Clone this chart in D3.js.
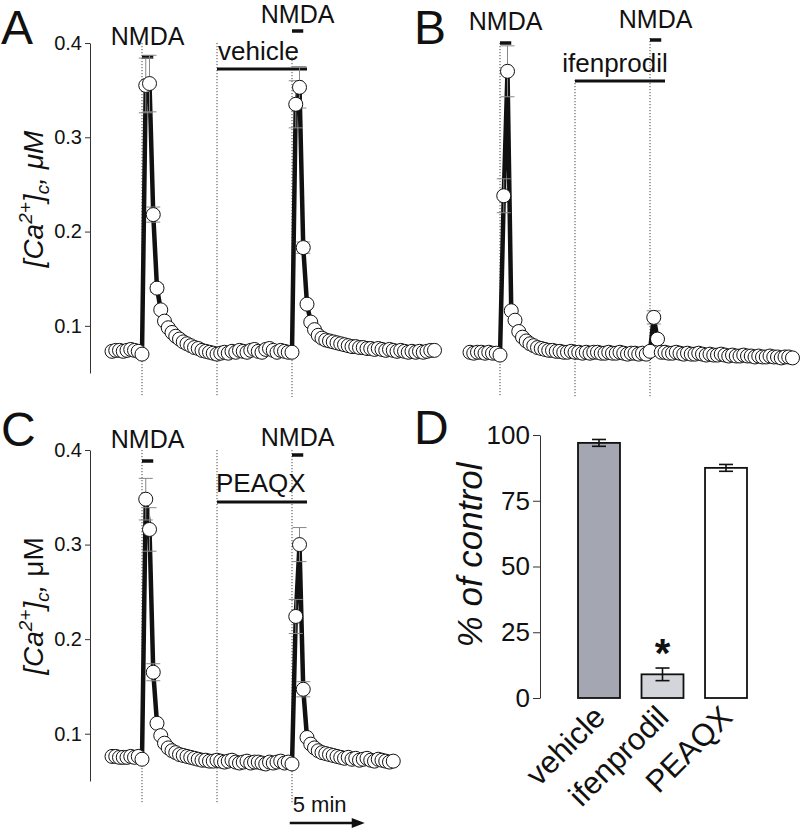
<!DOCTYPE html>
<html><head><meta charset="utf-8">
<script src="https://cdn.jsdelivr.net/npm/d3@7"></script>
<style>
body{margin:0;background:#fff}
svg{display:block}
text{font-family:"Liberation Sans",Arial,Helvetica,sans-serif;fill:#111}
</style>
</head><body>
<svg id="fig" width="800" height="829"></svg>
<script>
// ---------- DATA ----------
const sampleStart = -2;      // min, first sample
const sampleStep = 0.25;     // min between samples
const nmdaTimes = [0, 10];   // min
const nmdaDuration = 0.75;   // min
const treatWindow = [5, 11]; // min
const treatmentNames = ["vehicle", "ifenprodil", "PEAQX"];
const yTicksTrace = [0.1, 0.2, 0.3, 0.4];
const yTicksBar = [0, 25, 50, 75, 100];

const traceA = [
  0.073,0.074,0.074,0.073,0.074,0.075,0.074,0.073,0.070,
  0.355,0.357,0.218,0.140,0.117,0.105,0.098,0.093,0.089,0.086,0.083,
  0.081,0.079,0.077,0.076,0.074,0.073,0.072,0.071,0.070,0.071,
  0.072,0.071,0.073,0.072,0.074,0.073,0.072,0.074,0.075,0.073,
  0.072,0.075,0.076,0.074,0.072,0.074,0.073,0.072,0.072,
  0.335,0.353,0.183,0.123,0.104,0.096,0.090,0.087,0.085,0.084,0.083,
  0.082,0.081,0.080,0.079,0.078,0.078,0.077,0.077,0.076,0.076,
  0.075,0.076,0.075,0.074,0.075,0.074,0.073,0.074,0.073,0.072,
  0.073,0.072,0.073,0.072,0.073,0.074,0.074
];
const errIdxA = [9, 10, 11, 12, 49, 50, 51];
const errValA = [0.029, 0.030, 0.008, 0.004, 0.025, 0.022, 0.006];

const traceB = [
  0.072,0.071,0.072,0.072,0.071,0.072,0.071,0.071,0.069,
  0.238,0.370,0.116,0.106,0.094,0.088,0.084,0.081,0.079,0.077,0.076,
  0.075,0.074,0.074,0.073,0.073,0.072,0.072,0.073,0.072,
  0.072,0.071,0.072,0.071,0.072,0.072,0.071,0.071,0.072,0.071,
  0.071,0.072,0.071,0.070,0.071,0.071,0.070,0.071,0.070,
  0.073,0.109,0.086,0.072,
  0.072,0.071,0.071,0.072,0.071,0.070,0.071,0.070,0.070,0.071,
  0.070,0.069,0.070,0.069,0.069,0.070,0.069,0.068,0.069,0.068,
  0.068,0.069,0.068,0.068,0.067,0.068,0.067,0.067,0.068,0.067,
  0.067,0.066,0.067,0.067,0.066
];
const errIdxB = [9, 10, 49];
const errValB = [0.018, 0.027, 0.007];

const traceC = [
  0.076,0.076,0.075,0.075,0.075,0.076,0.075,0.076,0.073,
  0.348,0.316,0.165,0.111,0.098,0.090,0.085,0.082,0.080,0.078,0.077,
  0.076,0.075,0.074,0.073,0.072,0.072,0.071,0.071,0.072,
  0.071,0.070,0.071,0.072,0.070,0.069,0.070,0.071,0.069,0.070,
  0.070,0.069,0.068,0.070,0.069,0.070,0.071,0.069,0.070,
  0.068,0.224,0.300,0.147,0.096,0.089,0.085,0.082,0.080,0.079,0.078,0.077,
  0.076,0.075,0.074,0.075,0.073,0.074,0.072,0.073,0.074,0.072,
  0.071,0.073,0.072,0.071,0.070,0.071
];
const errIdxC = [9, 10, 11, 49, 50, 51];
const errValC = [0.022, 0.023, 0.009, 0.018, 0.018, 0.008];

const barCategories = ["vehicle", "ifenprodil", "PEAQX"];
const barValues = [97, 9, 87.5];
const barErrors = [1.3, 2.4, 1.3];
const barColors = ["#a4a7b1", "#d3d5da", "#ffffff"];
const scaleBarMinutes = 5;

// ---------- DRAW ----------
const svg = d3.select("#fig");
const FONT = '"Liberation Sans",Arial,Helvetica,sans-serif';

const xA = d3.scaleLinear().domain([0, 10]).range([142, 292]);
const xB = d3.scaleLinear().domain([0, 10]).range([500, 650]);
const xC = d3.scaleLinear().domain([0, 10]).range([142, 292]);
const yA = d3.scaleLinear().domain([0.05, 0.4]).range([373, 43]);
const yC = d3.scaleLinear().domain([0.05, 0.4]).range([781, 450]);

function traceAxis(y, xPos) {
  const g = svg.append("g").attr("transform", `translate(${xPos},0)`)
    .call(d3.axisLeft(y).tickValues(yTicksTrace).tickFormat(d3.format(".1f"))
      .tickSizeOuter(0).tickSizeInner(5).tickPadding(3));
  g.select(".domain").attr("stroke", "#333");
  g.selectAll(".tick line").attr("stroke", "#333");
  g.selectAll(".tick text").attr("font-size", 20).attr("font-family", FONT).attr("fill", "#111");
}

function yLabel(cx, cy, muItalic) {
  const t = svg.append("text").attr("transform", `translate(${cx},${cy}) rotate(-90)`)
    .attr("text-anchor", "middle").attr("font-size", 28).attr("font-style", "italic");
  t.append("tspan").text("[Ca");
  t.append("tspan").attr("dy", -11).attr("font-size", 19).text("2+");
  t.append("tspan").attr("dy", 11).text("]");
  t.append("tspan").attr("dy", 6).attr("font-size", 19).text("c");
  t.append("tspan").attr("dy", -6).text(", ");
  t.append("tspan").attr("font-style", muItalic ? "italic" : "normal").text("\u03bcM");
}

function panel(opts) {
  const {x, y, data, errIdx, errVal, cfg, treatment} = opts;
  const g = svg.append("g");
  // dotted lines
  const dts = [nmdaTimes[0], treatWindow[0], nmdaTimes[1]];
  dts.forEach((t, i) => {
    g.append("line").attr("x1", x(t)).attr("x2", x(t))
      .attr("y1", cfg.dotTop[i]).attr("y2", cfg.dotBottom)
      .attr("stroke", "#333").attr("stroke-width", 0.9).attr("stroke-dasharray", "1.2,1.8");
  });
  // NMDA labels and bars
  nmdaTimes.forEach((t, i) => {
    g.append("text").attr("x", x(t + nmdaDuration / 2)).attr("y", cfg.nmdaText[i])
      .attr("text-anchor", "middle").attr("font-size", 25).text("NMDA");
    g.append("line").attr("x1", x(t)).attr("x2", x(t + nmdaDuration))
      .attr("y1", cfg.nmdaBar[i]).attr("y2", cfg.nmdaBar[i])
      .attr("stroke", "#111").attr("stroke-width", 3.5);
  });
  // treatment
  g.append("text").attr("x", cfg.treatAnchor === "middle" ? x((treatWindow[0] + treatWindow[1]) / 2) + cfg.treatDx : x(treatWindow[0]) + cfg.treatDx)
    .attr("y", cfg.treatText).attr("text-anchor", cfg.treatAnchor)
    .attr("font-size", 26).text(treatment);
  g.append("line").attr("x1", x(treatWindow[0])).attr("x2", x(treatWindow[1]))
    .attr("y1", cfg.treatBar).attr("y2", cfg.treatBar)
    .attr("stroke", "#111").attr("stroke-width", 3);

  const pts = data.map((v, i) => ({t: sampleStart + i * sampleStep, v}));
  // line
  g.append("path").datum(pts)
    .attr("d", d3.line().x(d => x(d.t)).y(d => y(d.v)))
    .attr("fill", "none").attr("stroke", "#111").attr("stroke-width", 4.5)
    .attr("stroke-linejoin", "miter").attr("stroke-miterlimit", 3);
  // error bars
  errIdx.forEach((idx, k) => {
    const p = pts[idx], e = errVal[k];
    const cx = x(p.t);
    const eg = g.append("g").attr("stroke", "#888").attr("stroke-width", 1);
    eg.append("line").attr("x1", cx).attr("x2", cx).attr("y1", y(p.v - e)).attr("y2", y(p.v + e));
    [p.v - e, p.v + e].forEach(v => eg.append("line").attr("x1", cx - 7).attr("x2", cx + 7).attr("y1", y(v)).attr("y2", y(v)));
  });
  // circles
  g.selectAll("circle.pt").data(pts).join("circle").attr("class", "pt")
    .attr("cx", d => x(d.t)).attr("cy", d => y(d.v)).attr("r", 7)
    .attr("fill", "#fff").attr("stroke", "#111").attr("stroke-width", 1);
}

// Panel A
traceAxis(yA, 90);
yLabel(43, 199, true);
panel({x: xA, y: yA, data: traceA, errIdx: errIdxA, errVal: errValA, treatment: treatmentNames[0],
  cfg: {dotTop: [43, 43, 57], dotBottom: 397, nmdaText: [45, 23], nmdaBar: [57, 31],
        treatText: 60, treatBar: 69, treatAnchor: "start", treatDx: 1}});
// Panel B
panel({x: xB, y: yA, data: traceB, errIdx: errIdxB, errVal: errValB, treatment: treatmentNames[1],
  cfg: {dotTop: [43, 80, 38], dotBottom: 397, nmdaText: [30, 28], nmdaBar: [43, 40],
        treatText: 72, treatBar: 81, treatAnchor: "middle", treatDx: -5}});
// Panel C
traceAxis(yC, 90);
yLabel(43, 606, false);
panel({x: xC, y: yC, data: traceC, errIdx: errIdxC, errVal: errValC, treatment: treatmentNames[2],
  cfg: {dotTop: [450, 450, 450], dotBottom: 803, nmdaText: [448, 446], nmdaBar: [461, 455],
        treatText: 492, treatBar: 502, treatAnchor: "start", treatDx: -1}});

// scale bar
const sbStart = nmdaTimes[1] - 0.15;
svg.append("text").attr("x", xC(sbStart) + 3).attr("y", 812).attr("font-size", 22).text(scaleBarMinutes + " min");
svg.append("line").attr("x1", xC(sbStart)).attr("x2", xC(sbStart + scaleBarMinutes) - 8)
  .attr("y1", 823).attr("y2", 823).attr("stroke", "#111").attr("stroke-width", 2.5);
{
  const xe = xC(sbStart + scaleBarMinutes);
  svg.append("path").attr("d", `M${xe},823 L${xe - 13},818 L${xe - 13},828 Z`).attr("fill", "#111");
}

// Panel D
const yD = d3.scaleLinear().domain([0, 100]).range([698, 435]);
const xD = d3.scaleBand().domain(barCategories).range([578, 747]).paddingInner(0.339).paddingOuter(0);
{
  const g = svg.append("g").attr("transform", "translate(540,0)")
    .call(d3.axisLeft(yD).tickValues(yTicksBar).tickSizeOuter(0).tickSizeInner(7).tickPadding(3));
  g.select(".domain").attr("stroke", "#333");
  g.selectAll(".tick line").attr("stroke", "#333");
  g.selectAll(".tick text").attr("font-size", 26).attr("font-family", FONT).attr("fill", "#111");
}
svg.append("text").attr("transform", "translate(482,555) rotate(-90)").attr("text-anchor", "middle")
  .attr("font-size", 35).attr("font-style", "italic").text("% of control");
svg.selectAll("rect.bar").data(barCategories).join("rect").attr("class", "bar")
  .attr("x", d => xD(d)).attr("width", xD.bandwidth())
  .attr("y", (d, i) => yD(barValues[i])).attr("height", (d, i) => yD(0) - yD(barValues[i]))
  .attr("fill", (d, i) => barColors[i]).attr("stroke", "#111").attr("stroke-width", 1.8);
barCategories.forEach((c, i) => {
  const cx = xD(c) + xD.bandwidth() / 2;
  const eg = svg.append("g").attr("stroke", "#111").attr("stroke-width", 1.6);
  eg.append("line").attr("x1", cx).attr("x2", cx).attr("y1", yD(barValues[i] - barErrors[i])).attr("y2", yD(barValues[i] + barErrors[i]));
  [barValues[i] - barErrors[i], barValues[i] + barErrors[i]].forEach(v =>
    eg.append("line").attr("x1", cx - 7).attr("x2", cx + 7).attr("y1", yD(v)).attr("y2", yD(v)));
  svg.append("text").attr("transform", `translate(${cx + 8},${719}) rotate(-45)`)
    .attr("text-anchor", "end").attr("font-size", 31).text(c);
});
svg.append("text").attr("x", xD("ifenprodil") + xD.bandwidth() / 2).attr("y", 667)
  .attr("text-anchor", "middle").attr("font-size", 40).attr("font-weight", "bold").text("*");

// panel letters
[["A", 1, 44], ["B", 414, 44], ["C", 1, 446], ["D", 414, 444]].forEach(([l, x, y]) =>
  svg.append("text").attr("x", x).attr("y", y).attr("font-size", 48).text(l));
</script>
</body></html>
